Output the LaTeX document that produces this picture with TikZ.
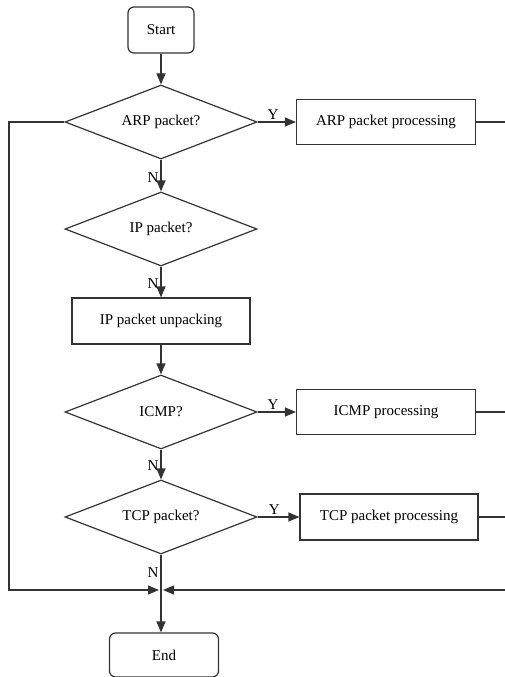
\documentclass[tikz,border=0pt]{standalone}
\usepackage{fontspec}
\setmainfont{Liberation Serif}
\usetikzlibrary{shapes.geometric,arrows.meta}

\begin{document}
\begin{tikzpicture}[x=1pt,y=-1pt,
  every node/.style={font=\fontsize{15}{18}\selectfont},
  line/.style={draw=black!80,line width=1.2pt},
  arr/.style={line,-{Triangle[length=11pt,width=9pt]}},
  term/.style={line,rectangle,rounded corners=6pt,minimum width=66pt,minimum height=46pt},
  proc/.style={line,rectangle,minimum width=179pt,minimum height=45pt},
  dec/.style={line,diamond,aspect=2.6,minimum width=192pt,minimum height=74pt,inner sep=0pt},
  lab/.style={inner sep=2pt}]
  \useasboundingbox (0,0) rectangle (505,677);

  %main column
  \node[term] (start) at (161,30) {Start};
  \node[dec] (arp) at (161,122) {ARP packet?};
  \node[dec] (ip) at (161,229) {IP packet?};
  \node[proc,minimum width=178pt,minimum height=46pt] (unpack) at (161,321) {IP packet unpacking};
  \node[dec] (icmp) at (161,412) {ICMP?};
  \node[dec] (tcp) at (161,517) {TCP packet?};
  \node[term,minimum width=109pt,minimum height=44pt] (end) at (164,655) {End};

  %processing boxes
  \node[proc] (arpproc) at (386,122) {ARP packet processing};
  \node[proc] (icmpproc) at (386,412) {ICMP processing};
  \node[proc,minimum width=178pt,minimum height=46pt] (tcpproc) at (389,517) {TCP packet processing};

  %merge point and loop corners
  \coordinate (m) at (161,590);
  \coordinate (lft) at (9,590);
  \coordinate (rgt) at (505,590);

  \draw[arr] (start) -- (arp);
  \draw[arr] (arp) -- node[left,lab,pos=0.55] {N} (ip);
  \draw[arr] (ip) -- node[left,lab,pos=0.55] {N} (unpack);
  \draw[arr] (unpack) -- (icmp);
  \draw[arr] (icmp) -- node[left,lab,pos=0.55] {N} (tcp);
  \draw[line] (tcp.south) -- node[left,lab,pos=0.5] {N} (m);
  \draw[arr] (m) -- (m |- end.north);

  %yes branches
  \draw[arr] (arp.east) -- node[above,lab,pos=0.4] {Y} (arpproc.west);
  \draw[arr] (icmp.east) -- node[above,lab,pos=0.4] {Y} (icmpproc.west);
  \draw[arr] (tcp.east) -- node[above,lab,pos=0.4] {Y} (tcpproc.west);

  %return lines
  \draw[line] (arpproc.east) -- (arpproc.east -| rgt);
  \draw[line] (icmpproc.east) -- (icmpproc.east -| rgt);
  \draw[line] (tcpproc.east) -- (tcpproc.east -| rgt);
  \draw[arr,shorten >=2pt] (arp.west) -| (lft) -- (m);
  \draw[arr,shorten >=2pt] (rgt) -- (m);
\end{tikzpicture}
\end{document}
